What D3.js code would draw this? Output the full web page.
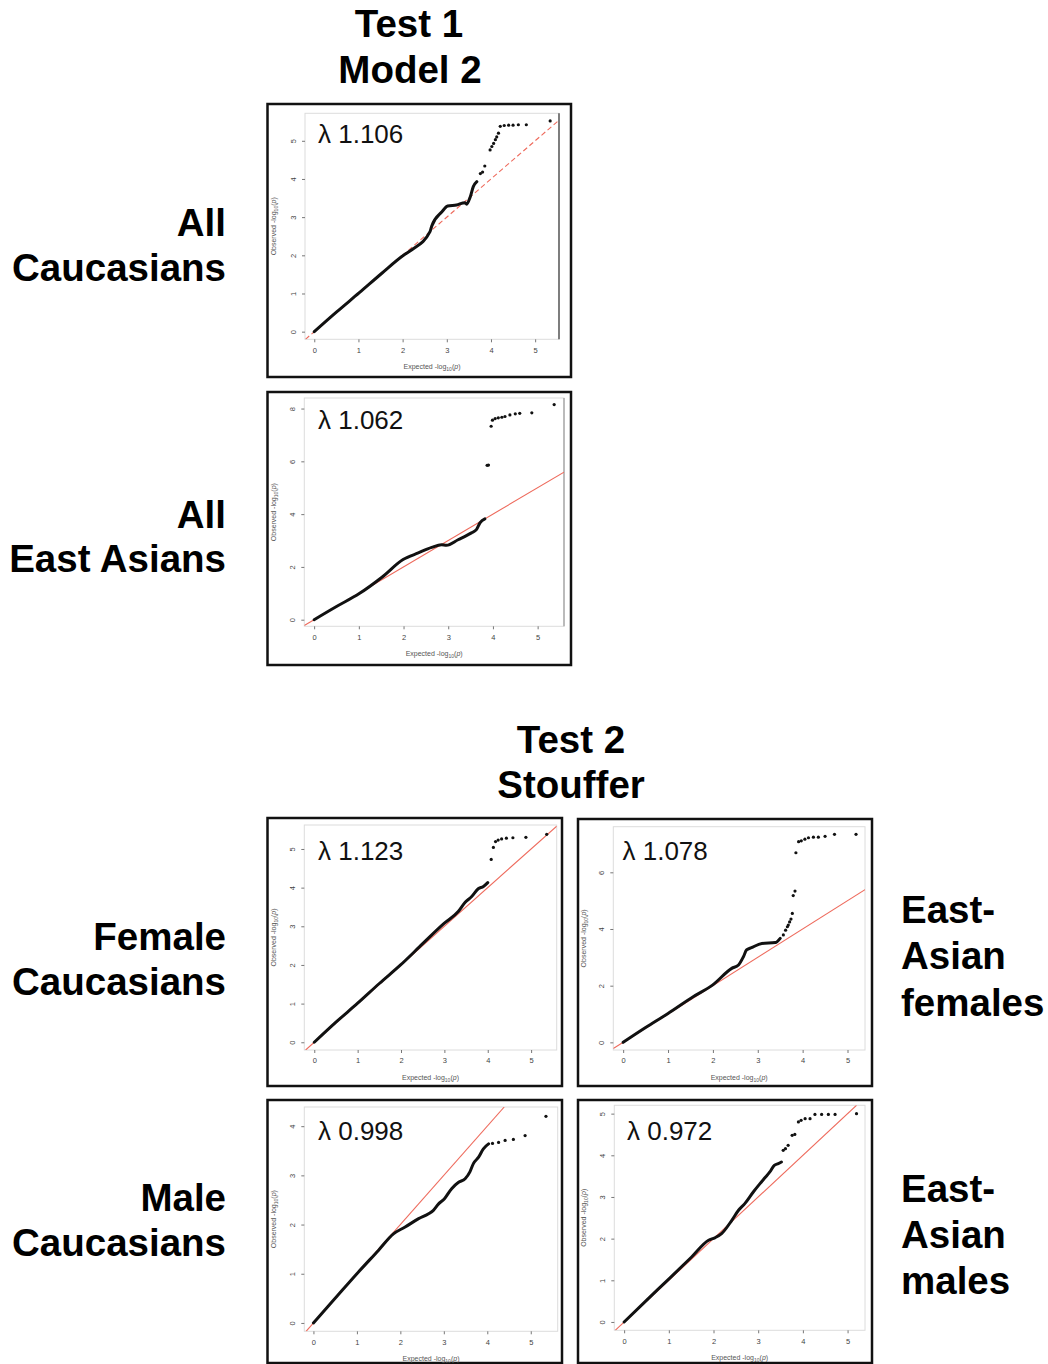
<!DOCTYPE html>
<html>
<head>
<meta charset="utf-8">
<script src="https://cdn.jsdelivr.net/npm/d3@7"></script>
<style>
  html, body { margin: 0; padding: 0; background: #fff; }
  svg { display: block; }
</style>
</head>
<body>
<svg id="chart" width="1048" height="1364"></svg>
<script>
// ---------------- DATA (expected -log10 p, observed -log10 p) ----------------
const lambdaLabels = ["λ 1.106", "λ 1.062", "λ 1.123", "λ 1.078", "λ 0.998", "λ 0.972"];
const xTickValues = [0, 1, 2, 3, 4, 5];
const yTicksCau1 = [0, 1, 2, 3, 4, 5];
const yTicksEa1  = [0, 2, 4, 6, 8];
const yTicksFc2  = [0, 1, 2, 3, 4, 5];
const yTicksEf2  = [0, 2, 4, 6];
const yTicksMc2  = [0, 1, 2, 3, 4];
const yTicksEm2  = [0, 1, 2, 3, 4, 5];

// Test 1 / Model 2 — All Caucasians
const cau1Curve = [[0,0],[0.5,0.51],[1.02,1.02],[1.53,1.53],[2.02,2.0],[2.2,2.14],[2.62,2.62],[2.66,2.77],[2.89,3.14],[3.02,3.29],[3.22,3.32],[3.41,3.38],[3.45,3.34],[3.53,3.53],[3.6,3.8],[3.68,3.93]];
const cau1Tail  = [[3.76,4.14],[3.81,4.18],[3.86,4.34],[3.98,4.76],[4.02,4.85],[4.06,4.93],[4.1,5.03],[4.13,5.1],[4.17,5.2],[4.21,5.38],[4.3,5.4],[4.4,5.41],[4.5,5.41],[4.62,5.42],[4.8,5.42],[5.34,5.52]];
// Test 1 / Model 2 — All East Asians
const ea1Curve = [[0,0],[0.5,0.5],[1.01,0.99],[1.51,1.6],[1.99,2.28],[2.33,2.53],[2.63,2.74],[2.85,2.84],[2.96,2.82],[3.22,3.03],[3.52,3.29],[3.63,3.41],[3.71,3.67],[3.82,3.82]];
const ea1Tail  = [[3.87,5.85],[3.9,5.86],[3.96,7.33],[3.99,7.56],[4.05,7.62],[4.12,7.65],[4.2,7.67],[4.27,7.7],[4.38,7.76],[4.5,7.8],[4.6,7.82],[4.87,7.84],[5.37,8.15]];
// Test 2 / Stouffer — Female Caucasians
const fc2Curve = [[0,0],[0.5,0.52],[1,1.01],[1.5,1.52],[1.99,2.0],[2.5,2.55],[3,3.08],[3.32,3.38],[3.48,3.62],[3.63,3.77],[3.78,3.97],[3.9,4.03],[4.0,4.13]];
const fc2Tail  = [[4.08,4.73],[4.13,5.04],[4.18,5.19],[4.24,5.23],[4.32,5.26],[4.43,5.28],[4.58,5.29],[4.88,5.3],[5.36,5.38]];
// Test 2 / Stouffer — East-Asian females
const ef2Curve = [[0,0],[0.5,0.52],[1,1.02],[1.56,1.61],[1.99,2.02],[2.42,2.61],[2.57,2.73],[2.68,3.02],[2.75,3.26],[2.86,3.34],[3.09,3.49],[3.39,3.52],[3.5,3.67]];
const ef2Tail  = [[3.57,3.79],[3.62,3.96],[3.66,4.08],[3.68,4.14],[3.71,4.25],[3.74,4.35],[3.77,4.55],[3.79,5.18],[3.83,5.34],[3.85,6.69],[3.91,7.08],[3.97,7.11],[4.05,7.17],[4.13,7.22],[4.24,7.24],[4.35,7.24],[4.5,7.27],[4.71,7.34],[5.19,7.34]];
// Test 2 / Stouffer — Male Caucasians
const mc2Curve = [[0,0],[0.5,0.5],[1,1],[1.5,1.48],[1.84,1.81],[2.11,1.95],[2.42,2.12],[2.65,2.22],[2.76,2.29],[2.88,2.42],[3.01,2.52],[3.18,2.73],[3.34,2.86],[3.49,2.93],[3.6,3.07],[3.68,3.24],[3.8,3.37],[3.91,3.54],[4.03,3.64]];
const mc2Tail  = [[4.12,3.65],[4.26,3.67],[4.41,3.71],[4.6,3.73],[4.87,3.81],[5.35,4.2]];
// Test 2 / Stouffer — East-Asian males
const em2Curve = [[0,0],[0.5,0.52],[1.01,1.04],[1.51,1.56],[1.89,1.96],[2.03,2.02],[2.18,2.12],[2.41,2.44],[2.56,2.68],[2.7,2.84],[2.89,3.12],[3.04,3.32],[3.15,3.46],[3.26,3.6],[3.36,3.76],[3.45,3.8],[3.52,3.84]];
const em2Tail  = [[3.56,4.12],[3.61,4.16],[3.67,4.24],[3.76,4.48],[3.82,4.5],[3.9,4.8],[3.96,4.84],[4.05,4.88],[4.16,4.88],[4.27,4.98],[4.42,4.98],[4.57,4.98],[4.72,4.98],[5.2,5.0]];

// ---------------- LAYOUT ----------------
const svg = d3.select("#chart");
svg.append("rect").attr("width", 1048).attr("height", 1364).attr("fill", "#fff");

const panels = [
  { frame:[267.5,104,571,377], plot:[305,113.3,559,339.3], xd:[-0.21,5.54], yd:[-0.2,5.72], yTicks:yTicksCau1,
    curve:cau1Curve, tail:cau1Tail, label:lambdaLabels[0], lab:[318,143.3], dashed:true, rightLine:"#333" },
  { frame:[267.5,392,571,665], plot:[304.3,398,564,626.3], xd:[-0.22,5.59], yd:[-0.25,8.4], yTicks:yTicksEa1,
    curve:ea1Curve, tail:ea1Tail, label:lambdaLabels[1], lab:[318,428.7], dashed:false, rightLine:"#999" },
  { frame:[267.5,818,562,1086], plot:[304.3,825,556.7,1050], xd:[-0.23,5.59], yd:[-0.2,5.62], yTicks:yTicksFc2,
    curve:fc2Curve, tail:fc2Tail, label:lambdaLabels[2], lab:[318,860], dashed:false },
  { frame:[578,819,872,1086], plot:[613.3,826.7,865,1050], xd:[-0.22,5.39], yd:[-0.27,7.61], yTicks:yTicksEf2,
    curve:ef2Curve, tail:ef2Tail, label:lambdaLabels[3], lab:[622.5,860], dashed:false },
  { frame:[267.5,1100,562,1363], plot:[304.3,1107,557.7,1331.3], xd:[-0.21,5.62], yd:[-0.17,4.39], yTicks:yTicksMc2,
    curve:mc2Curve, tail:mc2Tail, label:lambdaLabels[4], lab:[318,1139.7], dashed:false },
  { frame:[578,1100,872,1363], plot:[614.3,1105.3,865,1330.3], xd:[-0.22,5.39], yd:[-0.2,5.2], yTicks:yTicksEm2,
    curve:em2Curve, tail:em2Tail, label:lambdaLabels[5], lab:[627,1139.7], dashed:false }
];

const defs = svg.append("defs");

panels.forEach((p, i) => {
  const [fx0, fy0, fx1, fy1] = p.frame;
  const [px0, py0, px1, py1] = p.plot;
  const x = d3.scaleLinear().domain(p.xd).range([px0, px1]);
  const y = d3.scaleLinear().domain(p.yd).range([py1, py0]);
  const g = svg.append("g");

  // outer black frame
  g.append("rect").attr("x", fx0).attr("y", fy0).attr("width", fx1 - fx0).attr("height", fy1 - fy0)
    .attr("fill", "#fff").attr("stroke", "#111").attr("stroke-width", 2.5);

  // plot region box
  g.append("rect").attr("x", px0).attr("y", py0).attr("width", px1 - px0).attr("height", py1 - py0)
    .attr("fill", "none").attr("stroke", "#dcdcdc").attr("stroke-width", 1);
  if (p.rightLine) {
    g.append("line").attr("x1", px1).attr("x2", px1).attr("y1", py0).attr("y2", py1)
      .attr("stroke", p.rightLine).attr("stroke-width", 1.2);
  }

  // axes
  const xAxis = d3.axisBottom(x).tickValues(xTickValues).tickSize(3).tickSizeOuter(0).tickPadding(5)
    .tickFormat(d3.format("d"));
  const xa = g.append("g").attr("transform", `translate(0,${py1})`).call(xAxis);
  xa.select(".domain").remove();
  xa.selectAll(".tick line").attr("stroke", "#777");
  xa.selectAll(".tick text").attr("fill", "#444").attr("font-size", 7.5).attr("font-family", "Liberation Sans, Arial, sans-serif");

  const yAxis = d3.axisLeft(y).tickValues(p.yTicks).tickSize(3).tickSizeOuter(0).tickPadding(4)
    .tickFormat(d3.format("d"));
  const ya = g.append("g").attr("transform", `translate(${px0},0)`).call(yAxis);
  ya.select(".domain").remove();
  ya.selectAll(".tick line").attr("stroke", "#777");
  ya.selectAll(".tick text").attr("fill", "#444").attr("font-size", 7.5)
    .attr("font-family", "Liberation Sans, Arial, sans-serif")
    .attr("text-anchor", "middle").attr("dy", null)
    .attr("transform", "translate(-9,0) rotate(-90)").attr("x", 0).attr("y", 0);

  // axis titles
  const xt = g.append("text").attr("x", (px0 + px1) / 2).attr("y", py1 + 30)
    .attr("text-anchor", "middle").attr("font-size", 7).attr("fill", "#555")
    .attr("font-family", "Liberation Sans, Arial, sans-serif");
  xt.append("tspan").text("Expected  -log");
  xt.append("tspan").attr("font-size", 5).attr("dy", 2).text("10");
  xt.append("tspan").attr("dy", -2).text("(");
  xt.append("tspan").attr("font-style", "italic").text("p");
  xt.append("tspan").text(")");

  const yt = g.append("text").attr("transform", `translate(${fx0 + 8},${(py0 + py1) / 2}) rotate(-90)`)
    .attr("text-anchor", "middle").attr("font-size", 7).attr("fill", "#555")
    .attr("font-family", "Liberation Sans, Arial, sans-serif");
  yt.append("tspan").text("Observed  -log");
  yt.append("tspan").attr("font-size", 5).attr("dy", 2).text("10");
  yt.append("tspan").attr("dy", -2).text("(");
  yt.append("tspan").attr("font-style", "italic").text("p");
  yt.append("tspan").text(")");

  // clip
  const cid = "clip" + i;
  defs.append("clipPath").attr("id", cid).append("rect")
    .attr("x", px0).attr("y", py0).attr("width", px1 - px0).attr("height", py1 - py0);
  const inner = g.append("g").attr("clip-path", `url(#${cid})`);

  // red y = x reference
  const lo = Math.max(p.xd[0], p.yd[0]), hi = Math.min(p.xd[1], p.yd[1]);
  inner.append("line").attr("x1", x(lo)).attr("y1", y(lo)).attr("x2", x(hi)).attr("y2", y(hi))
    .attr("stroke", "#ee6a5c").attr("stroke-width", 1.1)
    .attr("stroke-dasharray", p.dashed ? "5,3" : null);

  // dense observed curve
  const line = d3.line().x(d => x(d[0])).y(d => y(d[1])).curve(d3.curveMonotoneX);
  inner.append("path").datum(p.curve).attr("d", line).attr("fill", "none")
    .attr("stroke", "#111").attr("stroke-width", 3).attr("stroke-linecap", "round").attr("stroke-linejoin", "round");

  // tail points
  inner.selectAll("circle.tail").data(p.tail).join("circle").attr("class", "tail")
    .attr("cx", d => x(d[0])).attr("cy", d => y(d[1])).attr("r", 1.6).attr("fill", "#111");

  // lambda label
  g.append("text").attr("x", p.lab[0]).attr("y", p.lab[1]).text(p.label)
    .attr("font-size", 26).attr("fill", "#111").attr("font-family", "Liberation Sans, Arial, sans-serif");
});

// ---------------- BIG LABELS ----------------
const big = (txt, x, yy, anchor) => svg.append("text").attr("x", x).attr("y", yy).text(txt)
  .attr("text-anchor", anchor).attr("font-size", 38.5).attr("font-weight", "bold").attr("fill", "#000")
  .attr("font-family", "Liberation Sans, Arial, sans-serif");

big("Test 1", 409, 37, "middle");
big("Model 2", 410, 83, "middle");
big("Test 2", 571, 753, "middle");
big("Stouffer", 571, 798, "middle");

big("All", 226, 236, "end");
big("Caucasians", 226, 281, "end");
big("All", 226, 528, "end");
big("East Asians", 226, 572, "end");
big("Female", 226, 950, "end");
big("Caucasians", 226, 995, "end");
big("Male", 226, 1211, "end");
big("Caucasians", 226, 1256, "end");

big("East-", 901, 923, "start");
big("Asian", 901, 969, "start");
big("females", 901, 1016, "start");
big("East-", 901, 1202, "start");
big("Asian", 901, 1248, "start");
big("males", 901, 1294, "start");
</script>
</body>
</html>
